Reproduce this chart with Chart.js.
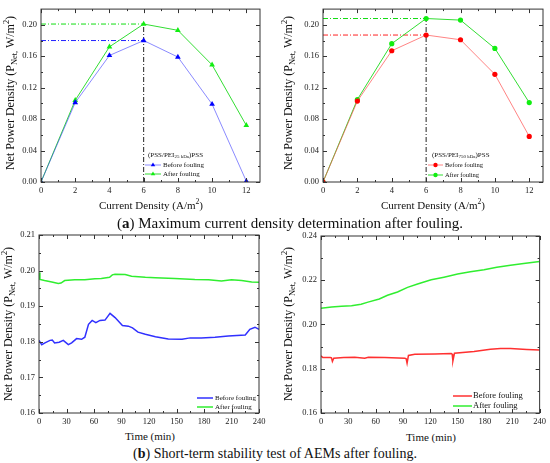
<!DOCTYPE html>
<html>
<head>
<meta charset="utf-8">
<script src="https://cdn.jsdelivr.net/npm/chart.js@4.4.0/dist/chart.umd.min.js"></script>
<style>
body { margin: 0; background: #fff; }
#fig { position: relative; width: 550px; height: 463px; font-family: 'Liberation Serif', serif; color: #111; }
canvas { position: absolute; }
.t { position: absolute; white-space: nowrap; transform: translate(-50%, -50%); font-size: 11px; }
.yt { transform: translate(-50%, -50%) rotate(-90deg); font-size: 12px; }
.t sub, .t sup { font-size: 70%; line-height: 0; }
.cap { position: absolute; white-space: nowrap; transform: translate(-50%, -50%); font-size: 15px; }
</style>
</head>
<body>
<div id="fig">
  <canvas id="chartA25" width="275" height="200" style="left:0;top:0"></canvas>
  <canvas id="chartA750" width="275" height="200" style="left:275px;top:0"></canvas>
  <canvas id="chartB25" width="275" height="205" style="left:0;top:225px"></canvas>
  <canvas id="chartB750" width="275" height="205" style="left:275px;top:225px"></canvas>

  <div class="t yt" style="left:10px;top:93px">Net Power Density (P<sub>Net,</sub> W/m<sup>2</sup>)</div>
  <div class="t yt" style="left:288px;top:93px">Net Power Density (P<sub>Net,</sub> W/m<sup>2</sup>)</div>
  <div class="t yt" style="left:8px;top:324px">Net Power Density (P<sub>Net,</sub> W/m<sup>2</sup>)</div>
  <div class="t yt" style="left:288px;top:324px">Net Power Density (P<sub>Net,</sub> W/m<sup>2</sup>)</div>

  <div class="t" style="left:151px;top:205px">Current Density (A/m<sup>2</sup>)</div>
  <div class="t" style="left:433px;top:205px">Current Density (A/m<sup>2</sup>)</div>
  <div class="t" style="left:150px;top:436px">Time (min)</div>
  <div class="t" style="left:431px;top:437px">Time (min)</div>

  <div class="cap" style="left:290px;top:223px">(<b>a</b>) Maximum current density determination after fouling.</div>
  <div class="cap" style="left:275px;top:454px;font-size:14px">(<b>b</b>) Short-term stability test of AEMs after fouling.</div>
</div>

<script>
// (a) power density vs current density
const currentDensity = [0, 2, 4, 6, 8, 10, 12];
const pei25Before = [0, 0.101, 0.161, 0.180, 0.159, 0.099, 0.001];
const pei25After = [0, 0.104, 0.172, 0.201, 0.193, 0.149, 0.072];
const pei750Before = [0, 0.103, 0.167, 0.187, 0.181, 0.137, 0.058];
const pei750After = [0, 0.105, 0.176, 0.208, 0.206, 0.170, 0.101];

// (b) stability over time
const t25Before = [0, 3, 6.5, 12, 14.5, 17, 22, 26.5, 32, 35.6, 41, 46.5, 50, 54, 58, 62, 66.5, 72, 77.5, 83, 91, 97.5, 102, 108, 116, 127, 141, 156, 165, 177, 192, 206.5, 225, 230, 235.6, 240];
const p25Before = [0.1804, 0.1792, 0.1797, 0.1804, 0.1805, 0.1797, 0.1799, 0.1804, 0.1792, 0.1797, 0.1809, 0.1807, 0.1813, 0.1849, 0.1860, 0.1854, 0.1860, 0.1861, 0.1880, 0.1868, 0.1846, 0.1844, 0.1839, 0.1827, 0.1821, 0.1814, 0.1808, 0.1807, 0.1811, 0.1811, 0.1813, 0.1816, 0.1819, 0.1835, 0.1841, 0.1835];
const t25After = [0, 1, 6, 14, 21, 24, 28, 39, 50, 61, 68, 77, 80, 83, 94, 101, 116, 127, 148, 170, 185, 199, 210, 221, 232, 240];
const p25After = [0.1995, 0.1975, 0.1972, 0.1968, 0.1964, 0.1965, 0.1972, 0.1974, 0.1974, 0.1977, 0.1978, 0.1981, 0.1988, 0.1990, 0.1989, 0.1984, 0.1981, 0.1980, 0.1978, 0.1975, 0.1974, 0.1971, 0.1974, 0.1972, 0.1968, 0.1967];
const t750Before = [0, 2, 10, 11.5, 12.5, 14, 25, 37, 48, 52, 70, 92, 93.5, 94.5, 96, 103, 125, 143, 144, 144.8, 146.5, 168, 186, 197, 208, 226, 240];
const p750Before = [0.1858, 0.1851, 0.1851, 0.1849, 0.1833, 0.1848, 0.1851, 0.1852, 0.1848, 0.1852, 0.1851, 0.1848, 0.1845, 0.1825, 0.1860, 0.1866, 0.1867, 0.1869, 0.1866, 0.1836, 0.1870, 0.1878, 0.1888, 0.1892, 0.1891, 0.1887, 0.1885];
const t750After = [0, 11.6, 22.5, 33.5, 44, 51.6, 64, 73, 84, 95, 106, 121, 135, 150, 164, 179, 193, 208, 222.5, 240];
const p750After = [0.2073, 0.2079, 0.2082, 0.2085, 0.2092, 0.2101, 0.2115, 0.2132, 0.2147, 0.2168, 0.2183, 0.2202, 0.2214, 0.2228, 0.2238, 0.2247, 0.2259, 0.2268, 0.2276, 0.2285];

const FONT = "'Liberation Serif', serif";

function pts(xs, ys) {
  return xs.map((x, i) => ({ x: x, y: ys[i] }));
}

function peak(ys) {
  const m = Math.max(...ys);
  return { x: currentDensity[ys.indexOf(m)], y: m };
}

function markerPath(ctx, style, x, y, r) {
  ctx.beginPath();
  if (style === 'triangle') {
    ctx.moveTo(x, y - r);
    ctx.lineTo(x + r * 0.866, y + r * 0.5);
    ctx.lineTo(x - r * 0.866, y + r * 0.5);
    ctx.closePath();
  } else {
    ctx.arc(x, y, r, 0, Math.PI * 2);
  }
}

// box with inward ticks on all four sides, like Origin
const frameTicks = {
  id: 'frameTicks',
  afterDraw(chart) {
    const { ctx, chartArea: a, scales } = chart;
    ctx.save();
    ctx.strokeStyle = '#333';
    ctx.lineWidth = 1;
    ctx.strokeRect(a.left, a.top, a.right - a.left, a.bottom - a.top);
    const mark = (sc, horiz) => {
      const vals = sc.ticks.map(t => t.value);
      const step = vals[1] - vals[0];
      const minors = [];
      vals.forEach(v => { if (v + step / 2 < sc.max - 1e-9) minors.push(v + step / 2); });
      const draw = (v, len) => {
        const p = Math.round(sc.getPixelForValue(v)) + 0.5;
        ctx.beginPath();
        if (horiz) {
          ctx.moveTo(p, a.bottom); ctx.lineTo(p, a.bottom - len);
          ctx.moveTo(p, a.top); ctx.lineTo(p, a.top + len);
        } else {
          ctx.moveTo(a.left, p); ctx.lineTo(a.left + len, p);
          ctx.moveTo(a.right, p); ctx.lineTo(a.right - len, p);
        }
        ctx.stroke();
      };
      vals.forEach(v => draw(v, 4));
      minors.forEach(v => draw(v, 2));
    };
    mark(scales.x, true);
    mark(scales.y, false);
    ctx.restore();
  }
};

function legendPlugin(cfg) {
  return {
    id: 'boxLegend',
    afterDraw(chart) {
      const ctx = chart.ctx;
      ctx.save();
      ctx.textBaseline = 'middle';
      ctx.fillStyle = '#111';
      if (cfg.title) {
        let x = cfg.titleX;
        cfg.title.forEach(part => {
          ctx.font = part[1] + 'px ' + FONT;
          ctx.fillText(part[0], x, cfg.titleY + part[2]);
          x += ctx.measureText(part[0]).width;
        });
      }
      ctx.font = cfg.font + 'px ' + FONT;
      cfg.items.forEach((di, k) => {
        const ds = chart.data.datasets[di];
        const y = cfg.y0 + k * cfg.gap;
        ctx.strokeStyle = ds.borderColor;
        ctx.lineWidth = ds.borderWidth;
        ctx.beginPath();
        ctx.moveTo(cfg.x0, y);
        ctx.lineTo(cfg.x0 + cfg.len, y);
        ctx.stroke();
        if (ds.pointRadius) {
          ctx.fillStyle = ds.pointBackgroundColor;
          markerPath(ctx, ds.pointStyle, cfg.x0 + cfg.len / 2, y, cfg.markR);
          ctx.fill();
          ctx.fillStyle = '#111';
        }
        ctx.fillText(ds.label, cfg.textX, y);
      });
      ctx.restore();
    }
  };
}

function axis(min, max, step, dec, fit, horiz) {
  return {
    type: 'linear',
    min: min,
    max: max,
    grid: { display: false, drawTicks: false },
    border: { display: false },
    ticks: {
      stepSize: step,
      includeBounds: false,
      autoSkip: false,
      padding: 4,
      color: '#222',
      font: { family: FONT, size: 8.5 },
      maxRotation: 0,
      callback: v => Number(v).toFixed(dec)
    },
    afterBuildTicks: s => {
      s.ticks = s.ticks.filter(t => Math.abs(t.value / step - Math.round(t.value / step)) < 1e-6);
    },
    afterFit: s => {
      if (horiz) s.height = fit; else s.width = fit;
    }
  };
}

function makeChart(id, datasets, x, y, pad, legend) {
  return new Chart(document.getElementById(id), {
    type: 'line',
    data: { datasets: datasets },
    options: {
      responsive: false,
      animation: false,
      layout: { padding: pad },
      plugins: { legend: { display: false }, tooltip: { enabled: false } },
      scales: { x: x, y: y }
    },
    plugins: [frameTicks, legendPlugin(legend)]
  });
}

function series(label, data, line, mark, style, r, width) {
  return {
    label: label,
    data: data,
    borderColor: line,
    borderWidth: width,
    pointBackgroundColor: mark,
    pointBorderColor: mark,
    pointBorderWidth: 0,
    pointStyle: style,
    pointRadius: r,
    tension: 0
  };
}

function refLine(a, b, color) {
  return {
    label: '',
    data: [a, b],
    borderColor: color,
    borderWidth: 1,
    borderDash: [5, 2, 1, 2],
    pointRadius: 0
  };
}

// (a) left: PEI 25 kDa
const pk25b = peak(pei25Before), pk25a = peak(pei25After);
makeChart('chartA25', [
  series('Before fouling', pts(currentDensity, pei25Before), 'rgba(60,60,255,0.6)', '#0000ff', 'triangle', 3.3, 1),
  series('After fouling', pts(currentDensity, pei25After), '#33dd33', '#11ee11', 'triangle', 3.3, 1),
  refLine({ x: 0, y: pk25b.y }, pk25b, '#2222ff'),
  refLine({ x: 0, y: pk25a.y }, pk25a, '#11dd11'),
  refLine({ x: pk25a.x, y: 0 }, pk25a, '#222')
], axis(0, 12.8, 2, 0, 18, true), axis(0, 0.22, 0.04, 2, 41, false),
  { top: 3, right: 15, left: 0, bottom: 0 },
  { title: [['(PSS/PEI', 7, 0], ['25 kDa', 5, 2], [')PSS', 7, 0]], titleX: 148, titleY: 155,
    items: [0, 1], x0: 145, len: 16, textX: 163, y0: 165, gap: 9, font: 7, markR: 2.6 });

// (a) right: PEI 750 kDa
const pk750b = peak(pei750Before), pk750a = peak(pei750After);
makeChart('chartA750', [
  series('Before fouling', pts(currentDensity, pei750Before), 'rgba(255,80,80,0.7)', '#ff0000', 'circle', 2.6, 1),
  series('After fouling', pts(currentDensity, pei750After), '#33dd33', '#11ee11', 'circle', 2.6, 1),
  refLine({ x: 0, y: pk750b.y }, pk750b, '#ff2222'),
  refLine({ x: 0, y: pk750a.y }, pk750a, '#11dd11'),
  refLine({ x: pk750a.x, y: 0 }, pk750a, '#222')
], axis(0, 12.8, 2, 0, 18, true), axis(0, 0.22, 0.04, 2, 48, false),
  { top: 3, right: 7, left: 0, bottom: 0 },
  { title: [['(PSS/PEI', 7, 0], ['750 kDa', 5, 2], [')PSS', 7, 0]], titleX: 157, titleY: 155,
    items: [0, 1], x0: 153, len: 15, textX: 170, y0: 165, gap: 10, font: 6.5, markR: 2.2 });

// (b) left
makeChart('chartB25', [
  series('Before fouling', pts(t25Before, p25Before), '#3030ff', '#3030ff', 'circle', 0, 1.5),
  series('After fouling', pts(t25After, p25After), '#30ee30', '#30ee30', 'circle', 0, 1.5)
], axis(0, 240, 30, 0, 17, true), axis(0.16, 0.21, 0.01, 2, 39, false),
  { top: 10, right: 16, left: 0, bottom: 0 },
  { items: [0, 1], x0: 197, len: 16, textX: 215, y0: 173, gap: 9, font: 7 });

// (b) right
makeChart('chartB750', [
  series('Before fouling', pts(t750Before, p750Before), '#ff3030', '#ff3030', 'circle', 0, 1.5),
  series('After fouling', pts(t750After, p750After), '#30ee30', '#30ee30', 'circle', 0, 1.5)
], axis(0, 240, 30, 0, 17, true), axis(0.16, 0.24, 0.02, 2, 46, false),
  { top: 11, right: 9, left: 0, bottom: 0 },
  { items: [0, 1], x0: 178, len: 19, textX: 198, y0: 171, gap: 10, font: 8.5 });
</script>
</body>
</html>
